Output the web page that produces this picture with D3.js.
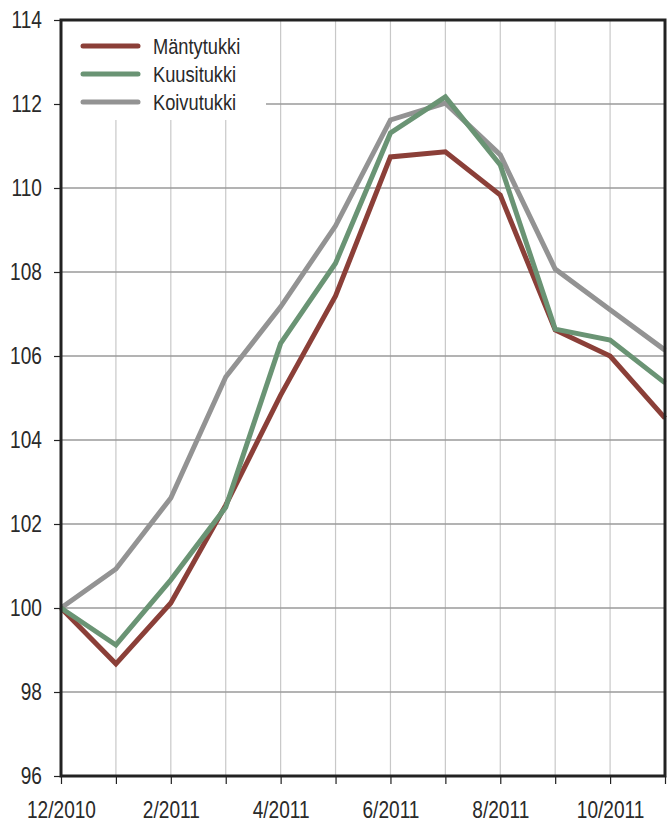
<!DOCTYPE html>
<html>
<head>
<meta charset="utf-8">
<script src="https://cdn.jsdelivr.net/npm/d3@7"></script>
<style>
  body { margin: 0; background: #fff; }
  svg text { font-family: "Liberation Sans", Arial, sans-serif; fill: #2a2a2a; }
</style>
</head>
<body>
<script>
// months and tick labels
var months = ["12/2010", "1/2011", "2/2011", "3/2011", "4/2011", "5/2011",
              "6/2011", "7/2011", "8/2011", "9/2011", "10/2011", "11/2011"];
var xTickLabels = ["12/2010", "2/2011", "4/2011", "6/2011", "8/2011", "10/2011"];
var yTicks = [96, 98, 100, 102, 104, 106, 108, 110, 112, 114];

// series values (index, 12/2010 = 100)
var mantytukki = [100, 98.67, 100.12, 102.45, 105.07, 107.43, 110.74, 110.86, 109.83, 106.62, 106.0, 104.52];
var kuusitukki = [100, 99.12, 100.67, 102.4, 106.3, 108.21, 111.31, 112.17, 110.55, 106.64, 106.38, 105.36];
var koivutukki = [100, 100.93, 102.62, 105.5, 107.17, 109.1, 111.62, 112.02, 110.79, 108.07, 107.1, 106.14];

var seriesNames = ["Mäntytukki", "Kuusitukki", "Koivutukki"];
var seriesColors = ["#8b3f38", "#6a9474", "#939393"];

// narrow look: squeeze the sans font horizontally
var squeeze = 0.83;

var margin = {top: 20, right: 2, bottom: 48, left: 61},
    width = 667 - margin.left - margin.right,
    height = 824 - margin.top - margin.bottom;

var svg = d3.select("body").append("svg")
    .attr("width", 667)
    .attr("height", 824)
  .append("g")
    .attr("transform", "translate(" + margin.left + "," + margin.top + ")");

var x = d3.scalePoint().domain(months).range([0, width]);
var y = d3.scaleLinear().domain([96, 114]).range([height, 0]);

// vertical grid (light)
svg.append("g")
  .selectAll("line")
  .data(months.slice(1))
  .enter().append("line")
    .attr("x1", function(d) { return x(d); })
    .attr("x2", function(d) { return x(d); })
    .attr("y1", 0)
    .attr("y2", height)
    .style("stroke", "#c8c8c8")
    .style("stroke-width", 1.2);

// horizontal grid (darker)
svg.append("g")
  .selectAll("line")
  .data(yTicks.slice(1, -1))
  .enter().append("line")
    .attr("x1", 0)
    .attr("x2", width)
    .attr("y1", function(d) { return y(d); })
    .attr("y2", function(d) { return y(d); })
    .style("stroke", "#9a9a9a")
    .style("stroke-width", 1.4);

// legend background covers grid
svg.append("rect")
    .attr("x", 0).attr("y", 0)
    .attr("width", 205).attr("height", 100)
    .style("fill", "#fff");

// lines
var series = [mantytukki, kuusitukki, koivutukki];
var line = d3.line()
    .x(function(d, i) { return x(months[i]); })
    .y(function(d) { return y(d); });

// draw grey first so red/green sit on top like the original
[2, 0, 1].forEach(function(k) {
  svg.append("path")
      .datum(series[k])
      .attr("d", line)
      .style("fill", "none")
      .style("stroke", seriesColors[k])
      .style("stroke-width", 5)
      .style("stroke-linejoin", "miter");
});

// frame
svg.append("rect")
    .attr("width", width).attr("height", height)
    .style("fill", "none")
    .style("stroke", "#222")
    .style("stroke-width", 3);

// y axis
var yAxis = svg.append("g")
    .call(d3.axisLeft(y).tickValues(yTicks).tickSize(7).tickSizeOuter(0).tickPadding(16));
yAxis.select(".domain").remove();
yAxis.selectAll("line").style("stroke", "#222").style("stroke-width", 1.2);
yAxis.selectAll("text")
    .style("font-size", "23px")
    .attr("transform", "scale(" + squeeze + ",1)");

// x axis
var xAxis = svg.append("g")
    .attr("transform", "translate(0," + height + ")")
    .call(d3.axisBottom(x).tickSize(8).tickSizeOuter(0).tickPadding(18)
      .tickFormat(function(d) { return xTickLabels.indexOf(d) >= 0 ? d : ""; }));
xAxis.select(".domain").remove();
xAxis.selectAll("line").style("stroke", "#222").style("stroke-width", 1.2);
xAxis.selectAll("text")
    .style("font-size", "23px")
    .attr("transform", "scale(" + squeeze + ",1)");

// legend
var legend = svg.append("g").attr("transform", "translate(22,26)");
seriesNames.forEach(function(name, i) {
  legend.append("line")
      .attr("x1", 0).attr("x2", 55)
      .attr("y1", i * 28).attr("y2", i * 28)
      .style("stroke", seriesColors[i])
      .style("stroke-width", 5)
      .style("stroke-linecap", "round");
  legend.append("text")
      .attr("x", 70 / squeeze)
      .attr("y", i * 28)
      .attr("dy", "0.38em")
      .attr("transform", "scale(" + squeeze + ",1)")
      .style("font-size", "22px")
      .text(name);
});
</script>
</body>
</html>
